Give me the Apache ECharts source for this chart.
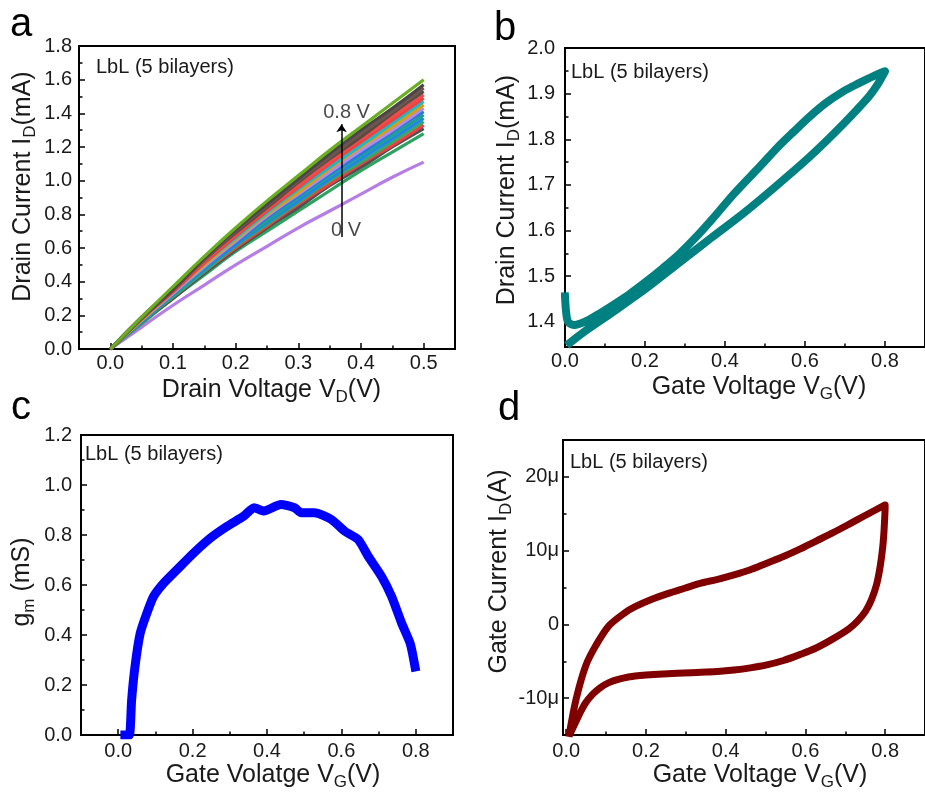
<!DOCTYPE html>
<html>
<head>
<meta charset="utf-8">
<script src="https://cdn.jsdelivr.net/npm/echarts@6/dist/echarts.min.js"></script>
<style>
html,body{margin:0;padding:0;background:#fff;}
#chart{width:925px;height:792px;}
</style>
</head>
<body>
<div id="chart"></div>
<script>
// ---------- (a) output curves: drain current (mA) vs drain voltage, gate stepped 0 -> 0.8 V ----------
const drainVoltage = [0, 0.05, 0.1, 0.15, 0.2, 0.25, 0.3, 0.35, 0.4, 0.45, 0.5];
const gateSteps = ['0 V', '0.05 V', '0.1 V', '0.15 V', '0.2 V', '0.25 V', '0.3 V', '0.35 V', '0.4 V',
                   '0.45 V', '0.5 V', '0.55 V', '0.6 V', '0.65 V', '0.7 V', '0.75 V', '0.8 V'];
const idVg000 = [0, 0.13, 0.26, 0.38, 0.50, 0.61, 0.72, 0.82, 0.92, 1.02, 1.11];
const idVg005 = [0, 0.15, 0.30, 0.44, 0.58, 0.70, 0.82, 0.94, 1.06, 1.17, 1.28];
const idVg010 = [0, 0.16, 0.30, 0.45, 0.59, 0.72, 0.84, 0.97, 1.08, 1.20, 1.31];
const idVg015 = [0, 0.16, 0.31, 0.46, 0.60, 0.73, 0.86, 0.98, 1.10, 1.21, 1.33];
const idVg020 = [0, 0.16, 0.31, 0.46, 0.61, 0.74, 0.87, 1.00, 1.11, 1.23, 1.35];
const idVg025 = [0, 0.16, 0.32, 0.47, 0.62, 0.75, 0.88, 1.01, 1.13, 1.25, 1.37];
const idVg030 = [0, 0.17, 0.32, 0.48, 0.63, 0.76, 0.90, 1.03, 1.15, 1.27, 1.39];
const idVg035 = [0, 0.17, 0.33, 0.49, 0.63, 0.78, 0.91, 1.04, 1.16, 1.29, 1.41];
const idVg040 = [0, 0.17, 0.33, 0.49, 0.64, 0.79, 0.92, 1.05, 1.18, 1.30, 1.43];
const idVg045 = [0, 0.17, 0.34, 0.50, 0.65, 0.80, 0.93, 1.07, 1.20, 1.32, 1.45];
const idVg050 = [0, 0.18, 0.34, 0.51, 0.66, 0.81, 0.95, 1.08, 1.21, 1.34, 1.47];
const idVg055 = [0, 0.18, 0.34, 0.51, 0.67, 0.82, 0.96, 1.10, 1.23, 1.36, 1.49];
const idVg060 = [0, 0.18, 0.35, 0.52, 0.68, 0.83, 0.97, 1.11, 1.25, 1.38, 1.51];
const idVg065 = [0, 0.18, 0.35, 0.53, 0.69, 0.84, 0.99, 1.13, 1.26, 1.40, 1.53];
const idVg070 = [0, 0.18, 0.36, 0.53, 0.70, 0.85, 1.00, 1.14, 1.28, 1.41, 1.55];
const idVg075 = [0, 0.19, 0.36, 0.54, 0.71, 0.86, 1.01, 1.16, 1.30, 1.43, 1.57];
const idVg080 = [0, 0.19, 0.37, 0.55, 0.72, 0.88, 1.03, 1.18, 1.32, 1.46, 1.60];

// ---------- (b) transfer loop: drain current (mA) vs gate voltage ----------
const transferVg = [0.000, 0.003, 0.008, 0.024, 0.049, 0.080, 0.122, 0.160, 0.204, 0.245, 0.286, 0.330,
                    0.367, 0.424, 0.490, 0.530, 0.571, 0.612, 0.653, 0.694, 0.735, 0.770, 0.800,
                    0.780, 0.759, 0.694, 0.612, 0.531, 0.449, 0.367, 0.286, 0.204, 0.122, 0.049, 0.012];
const transferId = [1.456, 1.420, 1.400, 1.393, 1.400, 1.415, 1.438, 1.460, 1.489, 1.518, 1.549, 1.588,
                    1.624, 1.682, 1.743, 1.781, 1.816, 1.850, 1.880, 1.904, 1.923, 1.938, 1.949,
                    1.918, 1.893, 1.832, 1.762, 1.700, 1.640, 1.585, 1.530, 1.474, 1.423, 1.379, 1.354];

// ---------- (c) transconductance (mS) vs gate voltage ----------
const gmVg = [0.018, 0.030, 0.036, 0.045, 0.059, 0.077, 0.095, 0.122, 0.158, 0.203, 0.248, 0.293, 0.338,
              0.365, 0.392, 0.437, 0.474, 0.492, 0.528, 0.573, 0.609, 0.645, 0.672, 0.708, 0.735, 0.762,
              0.785, 0.798];
const gmValue = [0.000, 0.000, 0.138, 0.272, 0.406, 0.487, 0.554, 0.607, 0.661, 0.728, 0.788, 0.835, 0.876,
                 0.909, 0.896, 0.922, 0.909, 0.889, 0.889, 0.862, 0.815, 0.782, 0.715, 0.634, 0.554, 0.447,
                 0.366, 0.272];

// ---------- (d) gate current (µA) vs gate voltage ----------
const gateVg = [0.008, 0.025, 0.049, 0.074, 0.107, 0.148, 0.173, 0.215, 0.256, 0.297, 0.338, 0.380, 0.421,
                0.462, 0.503, 0.545, 0.586, 0.627, 0.668, 0.710, 0.751, 0.800,
                0.800, 0.799, 0.797, 0.794, 0.788, 0.779, 0.766, 0.751, 0.730, 0.709, 0.668, 0.627, 0.586,
                0.545, 0.503, 0.462, 0.421, 0.380, 0.338, 0.256, 0.173, 0.135, 0.107, 0.085, 0.066, 0.048,
                0.033, 0.012];
const gateCurrent = [-14.8, -10.1, -5.6, -2.9, -0.2, 1.6, 2.4, 3.4, 4.2, 4.9, 5.6, 6.1, 6.7,
                     7.4, 8.3, 9.2, 10.2, 11.3, 12.4, 13.6, 14.8, 16.2,
                     15.8, 14.5, 12.5, 10.5, 8.0, 5.5, 3.4, 1.8, 0.4, -0.6, -2.0, -3.2, -4.1,
                     -4.9, -5.5, -5.9, -6.2, -6.4, -6.5, -6.7, -7.0, -7.4, -7.9, -8.6, -9.5, -10.7,
                     -12.2, -14.6];

// ---------- tick positions ----------
const aTickX = [0, 0.1, 0.2, 0.3, 0.4, 0.5];
const aMinorX = [0.05, 0.15, 0.25, 0.35, 0.45];
const aTickY = [0, 0.2, 0.4, 0.6, 0.8, 1.0, 1.2, 1.4, 1.6, 1.8];
const aMinorY = [0.1, 0.3, 0.5, 0.7, 0.9, 1.1, 1.3, 1.5, 1.7];
const bTickX = [0, 0.2, 0.4, 0.6, 0.8];
const bMinorX = [0.1, 0.3, 0.5, 0.7];
const bTickY = [1.4, 1.5, 1.6, 1.7, 1.8, 1.9, 2.0];
const bMinorY = [1.45, 1.55, 1.65, 1.75, 1.85, 1.95];
const cTickX = [0, 0.2, 0.4, 0.6, 0.8];
const cMinorX = [0.1, 0.3, 0.5, 0.7];
const cTickY = [0, 0.2, 0.4, 0.6, 0.8, 1.0, 1.2];
const cMinorY = [0.1, 0.3, 0.5, 0.7, 0.9, 1.1];
const dTickX = [0, 0.2, 0.4, 0.6, 0.8];
const dMinorX = [0.1, 0.3, 0.5, 0.7];
const dTickY = [-10, 0, 10, 20];
const dMinorY = [-5, 5, 15];

// ---------- styling ----------
const FONT = '"Liberation Sans", Arial, Helvetica, sans-serif';
const INK = '#1a1a1a';
const outputCurves = [idVg000, idVg005, idVg010, idVg015, idVg020, idVg025, idVg030, idVg035, idVg040,
                      idVg045, idVg050, idVg055, idVg060, idVg065, idVg070, idVg075, idVg080];
const curveColors = ['#b57ee6', '#2ea35f', '#505050', '#ec3f3f', '#34a86a', '#1f86e6', '#1fa08f', '#2a78dc',
                     '#b48ae8', '#d4a012', '#20b8c8', '#e84444', '#f24a4a', '#5c4a40', '#6b5650', '#4b4545',
                     '#6aae22'];

const RICH = {
  t: { fontSize: 25, fontFamily: FONT, color: INK, lineHeight: 32 },
  s: { fontSize: 17, fontFamily: FONT, color: INK, lineHeight: 17, verticalAlign: 'bottom' }
};

const fmt1 = v => v.toFixed(1);
const fmtMicro = v => (v === 0 ? '0' : v + 'μ');

function makeAxes(dim, grid, o) {
  const pos = dim === 'x' ? 'bottom' : 'left';
  const main = {
    type: 'value', gridIndex: grid, min: o.min, max: o.max, position: pos,
    axisLine: { show: false, onZero: false },
    axisTick: { show: true, inside: true, length: 6, customValues: o.major,
                lineStyle: { color: '#000', width: 1.5 } },
    axisLabel: { customValues: o.major, formatter: o.fmt, margin: o.margin,
                 fontSize: 20, color: INK, fontFamily: FONT },
    splitLine: { show: false },
    name: o.name, nameLocation: 'middle', nameGap: o.gap,
    nameTextStyle: { fontFamily: FONT, color: INK, padding: o.pad, rich: RICH }
  };
  const minor = {
    type: 'value', gridIndex: grid, min: o.min, max: o.max, position: pos,
    axisLine: { show: false, onZero: false }, axisLabel: { show: false }, splitLine: { show: false },
    axisTick: { show: true, inside: true, length: 3.5, customValues: o.minor,
                lineStyle: { color: '#000', width: 1.5 } }
  };
  return [main, minor];
}

const gridBox = { show: true, borderColor: '#000', borderWidth: 2, backgroundColor: 'transparent' };

const xAxes = [].concat(
  makeAxes('x', 0, { min: -0.05, max: 0.55, major: aTickX, minor: aMinorX, fmt: fmt1, margin: 4, gap: 25,
                     pad: [0, 0, 0, 9], name: '{t|Drain Voltage V}{s|D}{t|(V)}' }),
  makeAxes('x', 1, { min: 0, max: 0.9, major: bTickX, minor: bMinorX, fmt: fmt1, margin: 4, gap: 24,
                     pad: [0, 0, 0, 28], name: '{t|Gate Voltage V}{s|G}{t|(V)}' }),
  makeAxes('x', 2, { min: -0.1, max: 0.9, major: cTickX, minor: cMinorX, fmt: fmt1, margin: 6, gap: 24,
                     pad: [0, 0, 0, 12], name: '{t|Gate Volatge V}{s|G}{t|(V)}' }),
  makeAxes('x', 3, { min: -0.008, max: 0.9, major: dTickX, minor: dMinorX, fmt: fmt1, margin: 6, gap: 24,
                     pad: [0, 0, 0, 32], name: '{t|Gate Voltage V}{s|G}{t|(V)}' })
);
const yAxes = [].concat(
  makeAxes('y', 0, { min: 0, max: 1.8, major: aTickY, minor: aMinorY, fmt: fmt1, margin: 7, gap: 40,
                     pad: [0, 0, 0, 22], name: '{t|Drain Current I}{s|D}{t|(mA)}' }),
  makeAxes('y', 1, { min: 1.345, max: 2.0, major: bTickY, minor: bMinorY, fmt: fmt1, margin: 10, gap: 42,
                     pad: [0, 0, 0, 15], name: '{t|Drain Current I}{s|D}{t|(mA)}' }),
  makeAxes('y', 2, { min: 0, max: 1.2, major: cTickY, minor: cMinorY, fmt: fmt1, margin: 9, gap: 43,
                     pad: [0, 0, 0, 6], name: '{t|g}{s|m}{t| (mS)}' }),
  makeAxes('y', 3, { min: -15, max: 25, major: dTickY, minor: dMinorY, fmt: fmtMicro, margin: 4, gap: 48,
                     pad: [0, 0, 0, 32], name: '{t|Gate Current I}{s|D}{t|(A)}' })
);

const series = [];
outputCurves.forEach((curve, i) => {
  series.push({
    name: gateSteps[i], type: 'line', xAxisIndex: 0, yAxisIndex: 0,
    data: drainVoltage.map((v, j) => [v, curve[j]]),
    smooth: true, showSymbol: false, silent: true,
    lineStyle: { width: 3.2, color: curveColors[i] }
  });
});
// gate sweep direction arrow and its end labels
series.push({
  type: 'scatter', xAxisIndex: 0, yAxisIndex: 0, symbolSize: 0, silent: true,
  data: [{ name: '0.8 V', value: [0.377, 1.408] }, { name: '0 V', value: [0.376, 0.705] }],
  label: { show: true, position: 'inside', formatter: p => p.name, fontSize: 20, color: INK, fontFamily: FONT },
  markLine: {
    silent: true, symbol: ['none', 'arrow'], symbolSize: 8,
    label: { show: false },
    lineStyle: { color: '#000', width: 1.5, type: 'solid' },
    data: [[{ coord: [0.369, 0.665] }, { coord: [0.369, 1.335] }]]
  }
});
series.push({
  type: 'line', xAxisIndex: 2, yAxisIndex: 2, silent: true, showSymbol: false, smooth: 0.3,
  data: transferVg.map((v, j) => [v, transferId[j]]),
  lineStyle: { width: 8, color: '#008080', cap: 'square', join: 'round' }
});
series.push({
  type: 'line', xAxisIndex: 4, yAxisIndex: 4, silent: true, showSymbol: false, smooth: 0.2,
  data: gmVg.map((v, j) => [v, gmValue[j]]),
  lineStyle: { width: 9, color: '#0000ff', cap: 'square', join: 'round' }
});
series.push({
  type: 'line', xAxisIndex: 6, yAxisIndex: 6, silent: true, showSymbol: false, smooth: 0.3,
  data: gateVg.map((v, j) => [v, gateCurrent[j]]),
  lineStyle: { width: 7, color: '#800000', cap: 'square', join: 'round' }
});

function caption(text, left, top) {
  return { type: 'text', left: left, top: top, silent: true,
           style: { text: text, fill: INK, font: '20px ' + FONT } };
}
function panelLetter(text, left, top) {
  return { type: 'text', left: left, top: top, silent: true,
           style: { text: text, fill: '#000', font: '40px ' + FONT } };
}

const option = {
  animation: false,
  backgroundColor: '#fff',
  grid: [
    Object.assign({ left: 79, top: 46, width: 376, height: 303 }, gridBox),
    Object.assign({ left: 565, top: 48, width: 367.5, height: 299 }, gridBox),
    Object.assign({ left: 81, top: 435, width: 372, height: 300 }, gridBox),
    Object.assign({ left: 563, top: 440, width: 367, height: 296 }, gridBox)
  ],
  xAxis: xAxes,
  yAxis: yAxes,
  series: series,
  graphic: [
    panelLetter('a', 10, 5), panelLetter('b', 494, 9),
    panelLetter('c', 11, 388), panelLetter('d', 498, 389),
    caption('LbL (5 bilayers)', 96, 57), caption('LbL (5 bilayers)', 571, 62),
    caption('LbL (5 bilayers)', 85, 444), caption('LbL (5 bilayers)', 570, 452)
  ]
};

const chart = echarts.init(document.getElementById('chart'), null, { renderer: 'canvas' });
chart.setOption(option);
</script>
</body>
</html>
